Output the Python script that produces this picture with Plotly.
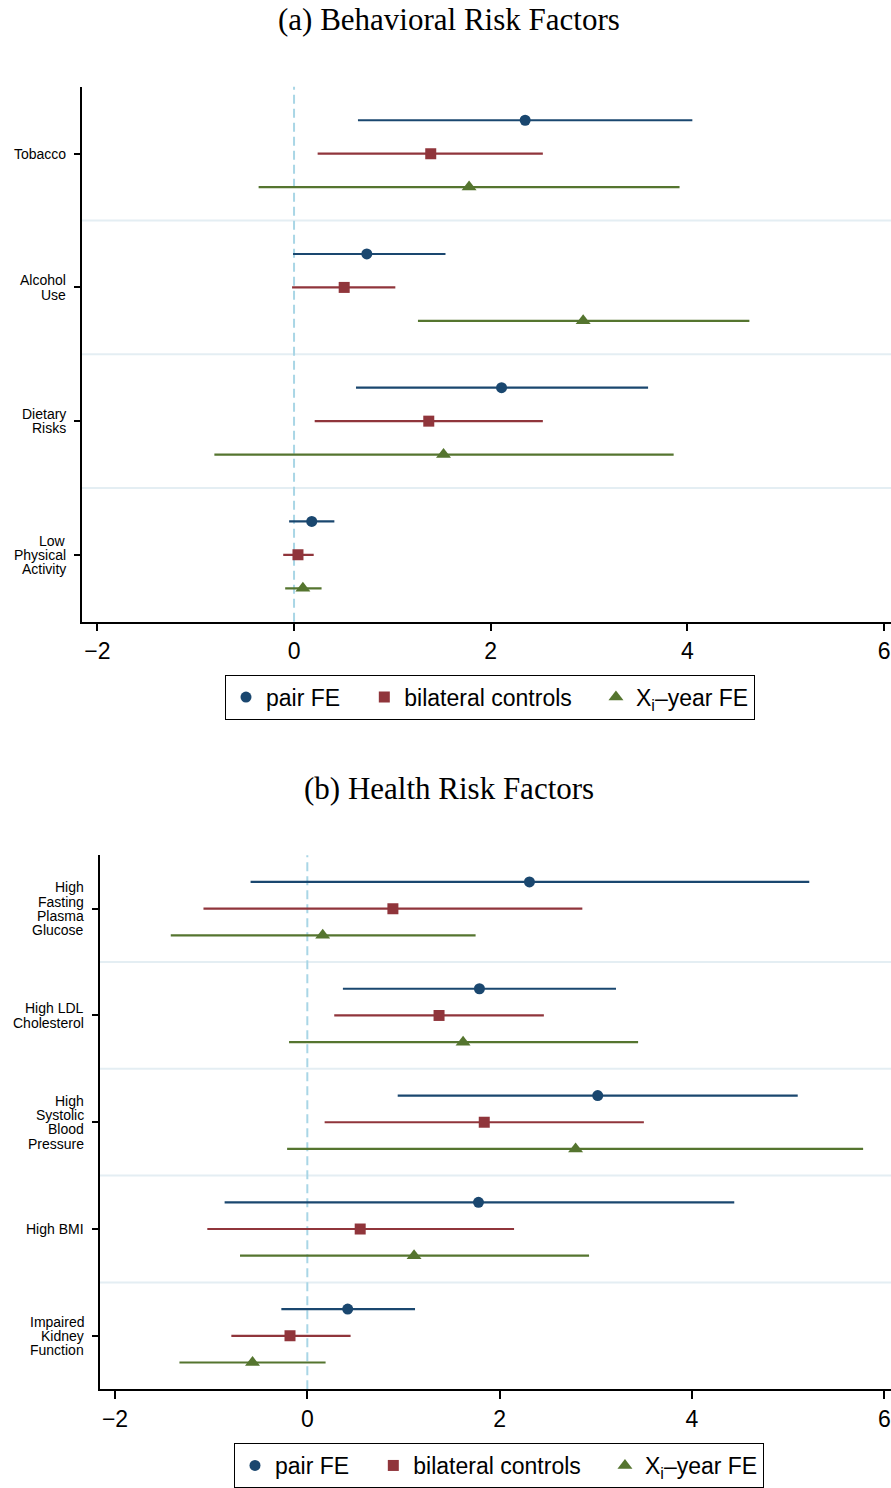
import plotly.graph_objects as go

# ---- data: point estimates with 95% confidence bounds ----
models = ["pair FE", "bilateral controls", "X<sub>i</sub>\u2013year FE"]
model_colors = ["#1a476f", "#90353b", "#55752f"]
model_symbols = ["circle", "square", "triangle-up"]
model_sizes = [11, 11, 13]

# (a) behavioral risk factors
behav_factors = ["Tobacco", "Alcohol<br>Use", "Dietary<br>Risks", "Low<br>Physical<br>Activity"]
behav_pair_est = [2.35, 0.74, 2.11, 0.18]
behav_pair_lo = [0.65, -0.01, 0.63, -0.05]
behav_pair_hi = [4.05, 1.54, 3.60, 0.41]
behav_bil_est = [1.39, 0.51, 1.37, 0.04]
behav_bil_lo = [0.24, -0.02, 0.21, -0.11]
behav_bil_hi = [2.53, 1.03, 2.53, 0.20]
behav_xi_est = [1.78, 2.94, 1.52, 0.09]
behav_xi_lo = [-0.36, 1.26, -0.81, -0.09]
behav_xi_hi = [3.92, 4.63, 3.86, 0.28]

# (b) health risk factors
health_factors = ["High<br>Fasting<br>Plasma<br>Glucose", "High LDL<br>Cholesterol",
                  "High<br>Systolic<br>Blood<br>Pressure", "High BMI",
                  "Impaired<br>Kidney<br>Function"]
health_pair_est = [2.31, 1.79, 3.02, 1.78, 0.42]
health_pair_lo = [-0.59, 0.37, 0.94, -0.86, -0.27]
health_pair_hi = [5.22, 3.21, 5.10, 4.44, 1.12]
health_bil_est = [0.89, 1.37, 1.84, 0.55, -0.18]
health_bil_lo = [-1.08, 0.28, 0.18, -1.04, -0.79]
health_bil_hi = [2.86, 2.46, 3.50, 2.15, 0.45]
health_xi_est = [0.16, 1.62, 2.79, 1.11, -0.57]
health_xi_lo = [-1.42, -0.19, -0.21, -0.70, -1.33]
health_xi_hi = [1.75, 3.44, 5.78, 2.93, 0.19]

x_ticks = [-2, 0, 2, 4, 6]
x_range = [-2.156, 6.07]

W, H = 891, 1488
SANS = "Liberation Sans, Arial, sans-serif"
SERIF = "Liberation Serif, Times New Roman, serif"

fig = go.Figure()

panels = [
    dict(factors=behav_factors,
         series=[(behav_pair_est, behav_pair_lo, behav_pair_hi),
                 (behav_bil_est, behav_bil_lo, behav_bil_hi),
                 (behav_xi_est, behav_xi_lo, behav_xi_hi)],
         xaxis="x", yaxis="y", legend="legend",
         xdom=[82 / W, 1.0], ydom=[1 - 623 / H, 1 - 87 / H]),
    dict(factors=health_factors,
         series=[(health_pair_est, health_pair_lo, health_pair_hi),
                 (health_bil_est, health_bil_lo, health_bil_hi),
                 (health_xi_est, health_xi_lo, health_xi_hi)],
         xaxis="x2", yaxis="y2", legend="legend2",
         xdom=[100 / W, 1.0], ydom=[1 - 1392 / H, 1 - 857 / H]),
]

shapes = []
annotations = []
layout_axes = {}
pad = "\u00a0" * 3

for p in panels:
    n = len(p["factors"])
    top = 4 * n
    centers = [top - 2 - 4 * i for i in range(n)]
    for m, (est, lo, hi) in enumerate(p["series"]):
        ys = [c + 1 - m for c in centers]
        name = models[m] + (pad if m < len(models) - 1 else "")
        fig.add_trace(go.Scatter(
            x=est, y=ys, mode="markers", name=name,
            xaxis=p["xaxis"], yaxis=p["yaxis"], legend=p["legend"],
            marker=dict(color=model_colors[m], symbol=model_symbols[m],
                        size=model_sizes[m], line=dict(width=0)),
            error_x=dict(type="data", symmetric=False,
                         array=[h - e for e, h in zip(est, hi)],
                         arrayminus=[e - l for e, l in zip(est, lo)],
                         color=model_colors[m], thickness=2.2, width=0),
            hoverinfo="skip",
        ))
    xa = "xaxis" if p["xaxis"] == "x" else "xaxis2"
    ya = "yaxis" if p["yaxis"] == "y" else "yaxis2"
    layout_axes[xa] = dict(domain=p["xdom"], anchor=p["yaxis"], range=x_range,
                           tickvals=x_ticks, ticks="outside", ticklen=8, tickwidth=1.5,
                           tickcolor="black", showline=True, linecolor="black",
                           linewidth=1.5, showgrid=False, zeroline=False,
                           tickfont=dict(family=SANS, size=23, color="black"))
    layout_axes[ya] = dict(domain=p["ydom"], anchor=p["xaxis"], range=[0, top],
                           tickvals=centers, showticklabels=False, ticks="outside",
                           ticklen=6, tickwidth=1.5, tickcolor="black",
                           showline=True, linecolor="black", linewidth=1.5,
                           showgrid=False, zeroline=False)
    # group separators
    for i in range(1, n):
        shapes.append(dict(type="line", xref=p["xaxis"] + " domain", x0=0, x1=1,
                           yref=p["yaxis"], y0=4 * i, y1=4 * i, layer="below",
                           line=dict(color="#e4eef3", width=2)))
    # reference line at zero
    shapes.append(dict(type="line", xref=p["xaxis"], x0=0, x1=0,
                       yref=p["yaxis"] + " domain", y0=0, y1=1, layer="below",
                       line=dict(color="#a9d6e6", width=2, dash="9px,5px")))
    # category labels, one line at a time for tight spacing
    for c, lab in zip(centers, p["factors"]):
        lines = lab.split("<br>")
        k = len(lines)
        for j, line in enumerate(lines):
            annotations.append(dict(
                text=line, xref="paper", x=p["xdom"][0], xanchor="right", xshift=-14,
                yref=p["yaxis"], y=c, yanchor="middle",
                yshift=-(j - (k - 1) / 2) * 14.2, showarrow=False,
                font=dict(family=SANS, size=14, color="black")))

annotations.append(dict(text="(a) Behavioral Risk Factors", xref="paper", yref="paper",
                        x=449 / W, y=1 - 20 / H, xanchor="center", yanchor="middle",
                        showarrow=False, font=dict(family=SERIF, size=31, color="black")))
annotations.append(dict(text="(b) Health Risk Factors", xref="paper", yref="paper",
                        x=449 / W, y=1 - 790 / H, xanchor="center", yanchor="middle",
                        showarrow=False, font=dict(family=SERIF, size=31, color="black")))

legend_style = dict(orientation="h", xanchor="center", yanchor="top",
                    bordercolor="black", borderwidth=1, bgcolor="white",
                    font=dict(family=SANS, size=23, color="black"))

fig.update_layout(
    width=W, height=H, margin=dict(l=0, r=0, t=0, b=0),
    paper_bgcolor="white", plot_bgcolor="white",
    shapes=shapes, annotations=annotations,
    legend=dict(x=490 / W, y=1 - 676 / H, **legend_style),
    legend2=dict(x=499 / W, y=1 - 1446 / H, **legend_style),
    **layout_axes,
)

fig.write_html("out.html")
